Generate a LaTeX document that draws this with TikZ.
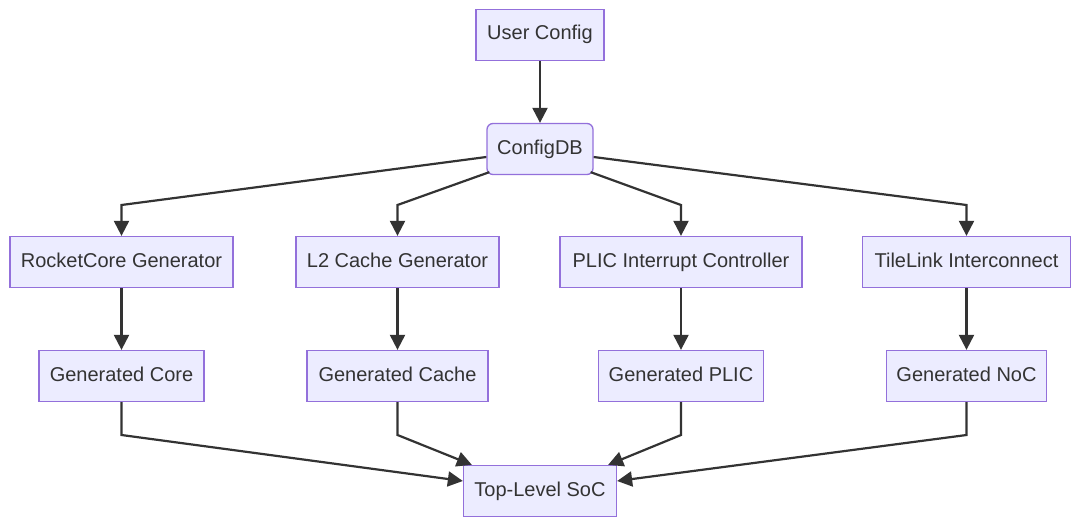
\documentclass[tikz,border=0pt]{standalone}
\usepackage{fontspec}
\setmainfont{Liberation Sans}
\usetikzlibrary{arrows.meta}
\definecolor{boxfill}{HTML}{ECECFF}
\definecolor{boxline}{HTML}{9370DB}
\definecolor{edge}{HTML}{333333}
\definecolor{txt}{HTML}{333333}
\tikzset{
  box/.style={draw=boxline, fill=boxfill, line width=1.3pt, minimum height=51pt, inner sep=0pt, text height=14pt, text depth=4pt, text=txt, font=\fontsize{20}{23}\selectfont},
  arr/.style={draw=edge, line width=2.2pt, -{Triangle[length=15pt,width=15pt]}}
}
\begin{document}
\begin{tikzpicture}[x=1pt,y=-1pt]
\useasboundingbox (0,0) rectangle (1080,527);
\node[box, minimum width=128pt] (uc) at (540,35) {User Config};
\node[box, minimum width=106pt, rounded corners=6pt] (cdb) at (540,149) {ConfigDB};
\node[box, minimum width=223pt] (rc) at (121.5,262) {RocketCore Generator};
\node[box, minimum width=203pt] (l2) at (397.5,262) {L2 Cache Generator};
\node[box, minimum width=242pt] (pl) at (681,262) {PLIC Interrupt Controller};
\node[box, minimum width=208pt] (tl) at (966.5,262) {TileLink Interconnect};
\node[box, minimum width=165pt] (gc) at (121.5,376) {Generated Core};
\node[box, minimum width=181pt] (gca) at (397.5,376) {Generated Cache};
\node[box, minimum width=165pt] (gp) at (681,376) {Generated PLIC};
\node[box, minimum width=160pt] (gn) at (966.5,376) {Generated NoC};
\node[box, minimum width=153pt] (soc) at (540,491) {Top-Level SoC};

\draw[arr] (uc.south) -- (cdb.north);
\draw[arr] ([yshift=-8pt]cdb.west) -- (rc.north |- 0,205) -- (rc.north);
\draw[arr] ([xshift=3pt,yshift=3pt]cdb.south west) -- (l2.north |- 0,205) -- (l2.north);
\draw[arr] ([xshift=-3pt,yshift=3pt]cdb.south east) -- (pl.north |- 0,205) -- (pl.north);
\draw[arr] ([yshift=-8pt]cdb.east) -- (tl.north |- 0,205) -- (tl.north);

\draw[arr] (rc.south) -- (gc.north);
\draw[arr] (l2.south) -- (gca.north);
\draw[arr] (pl.south) -- (gp.north);
\draw[arr] (tl.south) -- (gn.north);

\draw[arr] (gc.south) -- (gc.south |- 0,435) -- ([yshift=10pt]soc.west);
\draw[arr] (gca.south) -- (gca.south |- 0,435) -- ([xshift=9pt]soc.north west);
\draw[arr] (gp.south) -- (gp.south |- 0,435) -- ([xshift=-9pt]soc.north east);
\draw[arr] (gn.south) -- (gn.south |- 0,435) -- ([yshift=10pt]soc.east);
\end{tikzpicture}
\end{document}
